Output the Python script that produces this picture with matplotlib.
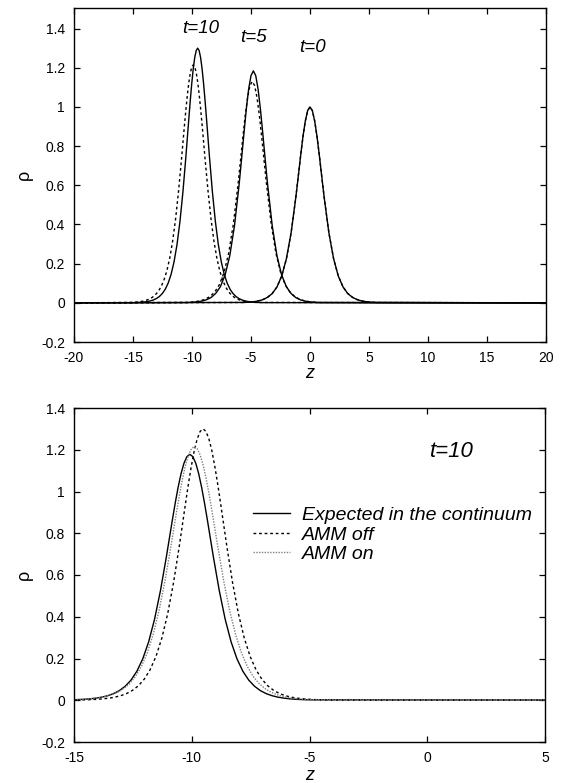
import matplotlib
matplotlib.use("Agg")
import matplotlib.pyplot as plt

plt.rcParams['font.family'] = ['Liberation Sans', 'DejaVu Sans']

# ---------------- data ----------------
# t = 0 profile (AMM on and off coincide)
z_t0 = [-20.0, -5.6, -5.2, -4.8, -4.4, -4.0, -3.6, -3.2, -2.8, -2.4, -2.0, -1.6, -1.2, -1.0, -0.8,
        -0.6, -0.4, -0.2, 0.0, 0.2, 0.4, 0.6, 0.8, 1.0, 1.2, 1.6, 2.0, 2.4, 2.8, 3.2, 3.6, 4.0,
        4.4, 4.8, 5.2, 5.6, 20.0]
rho_t0 = [0.0, 0.0018, 0.0031, 0.0053, 0.0093, 0.0162, 0.0280, 0.0474, 0.0810, 0.1365, 0.2248, 0.3576,
          0.539, 0.6426, 0.748, 0.8466, 0.927, 0.9812, 1.0, 0.9812, 0.927, 0.8466, 0.748, 0.6426,
          0.539, 0.3576, 0.2248, 0.1365, 0.0810, 0.0474, 0.0280, 0.0162, 0.0093, 0.0053, 0.0031,
          0.0018, 0.0]

# t = 5, AMM off
z_t5_off = [-20.0, -10.4, -10.0, -9.6, -9.2, -8.8, -8.4, -8.0, -7.6, -7.2, -6.8, -6.4, -6.0, -5.8,
            -5.6, -5.4, -5.2, -5.0, -4.8, -4.6, -4.4, -4.2, -4.0, -3.8, -3.6, -3.2, -2.8, -2.4, -2.0,
            -1.6, -1.2, -0.8, -0.4, 0.0, 0.4, 0.8, 20.0]
rho_t5_off = [0.0, 0.0015, 0.0027, 0.0047, 0.0084, 0.0150, 0.0264, 0.0474, 0.0818, 0.1412, 0.2395, 0.393,
              0.608, 0.734, 0.864, 0.988, 1.091, 1.160, 1.184, 1.160, 1.091, 0.988, 0.864, 0.734,
              0.608, 0.393, 0.2395, 0.1412, 0.0818, 0.0474, 0.0264, 0.0150, 0.0084, 0.0047, 0.0027,
              0.0015, 0.0]

# t = 5, AMM on
z_t5_on = [-20.0, -10.49, -10.09, -9.69, -9.29, -8.89, -8.49, -8.09, -7.69, -7.29, -6.89, -6.49, -6.09,
           -5.89, -5.69, -5.49, -5.29, -5.09, -4.89, -4.69, -4.49, -4.29, -4.09, -3.89, -3.69, -3.29,
           -2.89, -2.49, -2.09, -1.69, -1.29, -0.89, -0.49, -0.09, 0.31, 0.71, 20.0]
rho_t5_on = [0.0, 0.0020, 0.0035, 0.0060, 0.0105, 0.0183, 0.0316, 0.0536, 0.0915, 0.154, 0.254, 0.404,
             0.609, 0.7261, 0.845, 0.9567, 1.0475, 1.1088, 1.13, 1.1088, 1.0475, 0.9567, 0.845,
             0.7261, 0.609, 0.404, 0.254, 0.154, 0.0915, 0.0536, 0.0316, 0.0183, 0.0105, 0.0060,
             0.0035, 0.0020, 0.0]

# t = 10, AMM off
z_t10_off = [-20.0, -15.02, -14.77, -14.52, -14.27, -14.02, -13.77, -13.52, -13.27, -13.02, -12.77,
             -12.52, -12.27, -12.02, -11.77, -11.52, -11.27, -11.02, -10.77, -10.52, -10.27, -10.145,
             -10.02, -9.895, -9.77, -9.645, -9.52, -9.395, -9.27, -9.145, -9.02, -8.895, -8.77,
             -8.52, -8.27, -8.02, -7.77, -7.52, -7.27, -7.02, -6.77, -6.52, -6.27, -6.02, -5.77,
             -5.52, -5.27, -5.02, -4.77, -4.52, -4.27, -4.02, 20.0]
rho_t10_off = [0.0, 0.0010, 0.0014, 0.0021, 0.0031, 0.0046, 0.0068, 0.0100, 0.0147, 0.0217, 0.0320,
               0.0471, 0.0689, 0.1005, 0.1457, 0.2097, 0.2977, 0.4154, 0.5656, 0.7449, 0.9390, 1.0334,
               1.1202, 1.1945, 1.2516, 1.2877, 1.300, 1.2877, 1.2516, 1.1945, 1.1202, 1.0334, 0.9390,
               0.7449, 0.5656, 0.4154, 0.2977, 0.2097, 0.1457, 0.1005, 0.0689, 0.0471, 0.0320, 0.0217,
               0.0147, 0.0100, 0.0068, 0.0046, 0.0031, 0.0021, 0.0014, 0.0010, 0.0]

# t = 10, AMM on
z_t10_on = [-20.0, -15.14, -14.89, -14.64, -14.39, -14.14, -13.89, -13.64, -13.39, -13.14, -12.89,
            -12.64, -12.39, -12.14, -11.89, -11.64, -11.39, -11.14, -10.89, -10.64, -10.515, -10.39,
            -10.265, -10.14, -10.015, -9.89, -9.765, -9.64, -9.515, -9.39, -9.265, -9.14, -8.89,
            -8.64, -8.39, -8.14, -7.89, -7.64, -7.39, -7.14, -6.89, -6.64, -6.39, -6.14, -5.89,
            -5.64, -5.39, -5.14, -4.89, -4.64, 20.0]
rho_t10_on = [0.0, 0.0020, 0.0029, 0.0043, 0.0062, 0.0089, 0.0129, 0.0187, 0.0269, 0.0388, 0.0558,
              0.0799, 0.1140, 0.1616, 0.2271, 0.3148, 0.4288, 0.5698, 0.7334, 0.9055, 0.9877, 1.0625,
              1.1259, 1.1743, 1.2046, 1.215, 1.2046, 1.1743, 1.1259, 1.0625, 0.9877, 0.9055, 0.7334,
              0.5698, 0.4288, 0.3148, 0.2271, 0.1616, 0.1140, 0.0799, 0.0558, 0.0388, 0.0269, 0.0187,
              0.0129, 0.0089, 0.0062, 0.0043, 0.0029, 0.0020, 0.0]

# t = 10, expected in the continuum
z_t10_exp = [-20.0, -15.08, -14.83, -14.58, -14.33, -14.08, -13.83, -13.58, -13.33, -13.08, -12.83,
             -12.58, -12.33, -12.08, -11.83, -11.58, -11.33, -11.08, -10.83, -10.705, -10.58, -10.455,
             -10.33, -10.205, -10.08, -9.955, -9.83, -9.705, -9.58, -9.455, -9.33, -9.08, -8.83,
             -8.58, -8.33, -8.08, -7.83, -7.58, -7.33, -7.08, -6.83, -6.58, -6.33, -6.08, -5.83,
             -5.58, -5.33, -5.08, 20.0]
rho_t10_exp = [0.0, 0.0021, 0.0032, 0.0046, 0.0068, 0.0100, 0.0146, 0.0214, 0.0313, 0.0457, 0.0666,
               0.0965, 0.1390, 0.1985, 0.2799, 0.3878, 0.5243, 0.6857, 0.8590, 0.9428, 1.0196, 1.0852,
               1.1355, 1.1672, 1.178, 1.1672, 1.1355, 1.0852, 1.0196, 0.9428, 0.8590, 0.6857, 0.5243,
               0.3878, 0.2799, 0.1985, 0.1390, 0.0965, 0.0666, 0.0457, 0.0313, 0.0214, 0.0146, 0.0100,
               0.0068, 0.0046, 0.0032, 0.0021, 0.0]

series_labels = ['Expected in the continuum', 'AMM off', 'AMM on']
time_labels = ['t=10', 't=5', 't=0']

top_xticks = [-20, -15, -10, -5, 0, 5, 10, 15, 20]
top_xticklabels = ['-20', '-15', '-10', '-5', '0', '5', '10', '15', '20']
bot_xticks = [-15, -10, -5, 0, 5]
bot_xticklabels = ['-15', '-10', '-5', '0', '5']
yticks = [-0.2, 0.0, 0.2, 0.4, 0.6, 0.8, 1.0, 1.2, 1.4]
yticklabels = ['-0.2', '0', '0.2', '0.4', '0.6', '0.8', '1', '1.2', '1.4']

# ---------------- figure ----------------
W, H = 562, 783
fig = plt.figure(figsize=(W / 100, H / 100), dpi=100)

def px_axes(left, top, right, bottom):
    return fig.add_axes([left / W, 1 - bottom / H, (right - left) / W, (bottom - top) / H])

ax1 = px_axes(74, 8, 546, 342)
ax2 = px_axes(74, 408, 545, 742)

dot_black = (0, (2.0, 2.0))
dot_gray = (0, (1.0, 1.0))

# top panel
ax1.plot(z_t0, rho_t0, color='black', lw=1.0, ls=dot_black)
ax1.plot(z_t5_on, rho_t5_on, color='black', lw=1.0, ls=dot_black)
ax1.plot(z_t10_on, rho_t10_on, color='black', lw=1.0, ls=dot_black)
ax1.plot(z_t0, rho_t0, color='black', lw=1.0)
ax1.plot(z_t5_off, rho_t5_off, color='black', lw=1.0)
ax1.plot(z_t10_off, rho_t10_off, color='black', lw=1.0)

ax1.set_xlim(-20, 20)
ax1.set_ylim(-0.2, 1.505)
ax1.set_xticks(top_xticks)
ax1.set_xticklabels(top_xticklabels)

label_pos = [(-9.28, 1.40), (-4.75, 1.352), (0.21, 1.302)]
for txt, (xx, yy) in zip(time_labels, label_pos):
    ax1.text(xx, yy, txt, style='italic', fontsize=13.5, ha='center', va='center')

# bottom panel
ax2.plot(z_t10_exp, rho_t10_exp, color='black', lw=1.0, label=series_labels[0])
ax2.plot(z_t10_off, rho_t10_off, color='black', lw=1.0, ls=dot_black, label=series_labels[1])
ax2.plot(z_t10_on, rho_t10_on, color='0.5', lw=1.0, ls=dot_gray, label=series_labels[2])
ax2.set_xlim(-15, 5)
ax2.set_ylim(-0.2, 1.4)
ax2.set_xticks(bot_xticks)
ax2.set_xticklabels(bot_xticklabels)
ax2.text(1.05, 1.19, time_labels[0], style='italic', fontsize=16, ha='center', va='center')

leg = ax2.legend(loc='upper left', bbox_to_anchor=(0.381, 0.705), frameon=False,
                 prop={'style': 'italic', 'size': 14.0}, handlelength=1.88,
                 handletextpad=0.6, labelspacing=0.1, borderpad=0, borderaxespad=0)

for ax in (ax1, ax2):
    ax.set_yticks(yticks)
    ax.set_yticklabels(yticklabels)
    ax.tick_params(direction='in', top=True, right=True, length=4.5, width=0.9,
                   labelsize=10, pad=6.5, colors='black')
    for sp in ax.spines.values():
        sp.set_linewidth(1.0)
    ax.set_ylabel('ρ', fontsize=13)
    ax.set_xlabel('z', style='italic', fontsize=13)
    ax.yaxis.set_label_coords(-0.088, 0.5)

ax1.xaxis.set_label_coords(0.5, -0.068)
ax2.xaxis.set_label_coords(0.5, -0.076)

fig.savefig('out.png', dpi=100)
